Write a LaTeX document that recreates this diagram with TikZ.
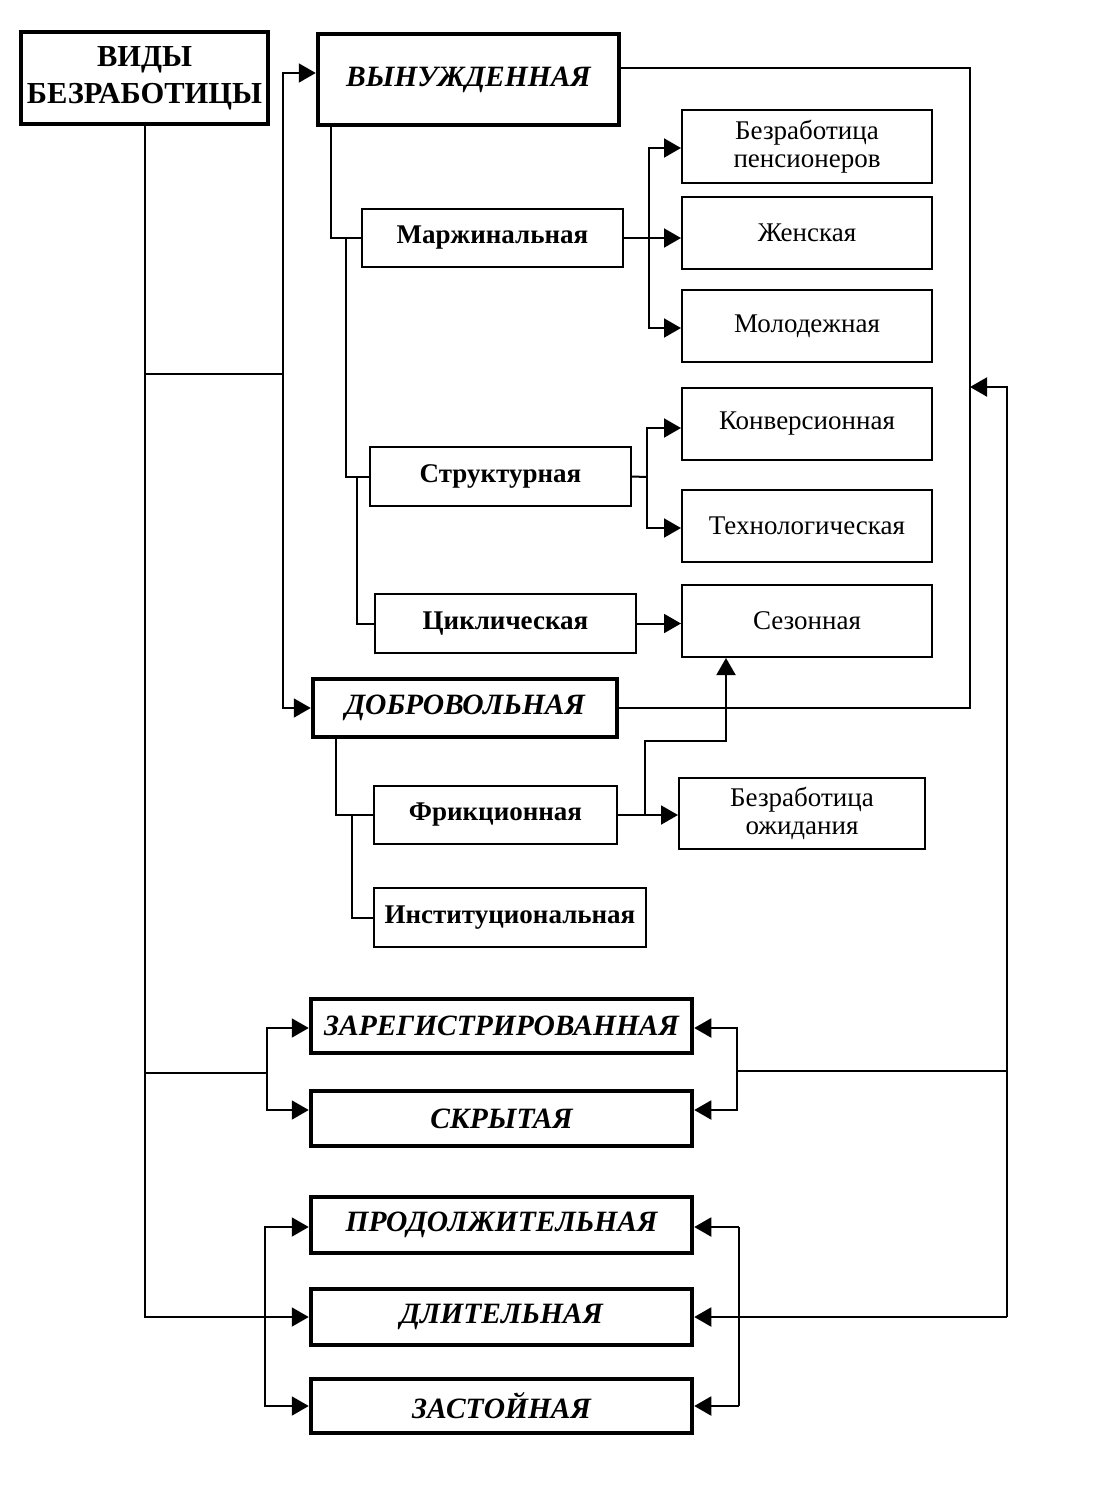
\documentclass[tikz,border=0pt]{standalone}
\usepackage{fontspec}
\setmainfont{Liberation Serif}
\usetikzlibrary{arrows.meta}
\tikzset{
  conn/.style={line width=2pt},
  arr/.style={conn,-{Triangle[length=17pt,width=19pt]}},
  bigbox/.style={draw,line width=4.5pt,inner sep=0pt,align=center,
    font=\fontsize{29.5}{33}\selectfont\bfseries\itshape},
  titlebox/.style={draw,line width=4.5pt,inner sep=0pt,align=center,
    font=\fontsize{30.5}{37}\selectfont\bfseries},
  subbox/.style={draw,line width=2pt,inner sep=0pt,align=center,
    font=\fontsize{27}{28}\selectfont\bfseries},
  leafbox/.style={draw,line width=2pt,inner sep=0pt,align=center,
    font=\fontsize{27}{28}\selectfont},
}
\begin{document}
\begin{tikzpicture}[x=1pt,y=-1pt]
\useasboundingbox (0,0) rectangle (1118,1500);
% nodes
\node[titlebox,minimum width=247pt,minimum height=92pt] (vid) at (144.5,78) {ВИДЫ\\БЕЗРАБОТИЦЫ};
\node[bigbox,minimum width=301pt,minimum height=91pt] (vyn) at (468.5,79.5) {ВЫНУЖДЕННАЯ};
\node[subbox,minimum width=261pt,minimum height=58pt] (marg) at (492.5,238) {Маржинальная};
\node[leafbox,minimum width=250pt,minimum height=73pt] (pens) at (807,146.5) {Безработица\\пенсионеров};
\node[leafbox,minimum width=250pt,minimum height=72pt] (zhen) at (807,233) {Женская};
\node[leafbox,minimum width=250pt,minimum height=72pt] (molod) at (807,326) {Молодежная};
\node[leafbox,minimum width=250pt,minimum height=72pt] (konv) at (807,424) {Конверсионная};
\node[leafbox,minimum width=250pt,minimum height=72pt] (tekh) at (807,526) {Технологическая};
\node[leafbox,minimum width=250pt,minimum height=72pt] (sez) at (807,621) {Сезонная};
\node[subbox,minimum width=261pt,minimum height=59pt] (strukt) at (500.5,476.5) {Структурная};
\node[subbox,minimum width=261pt,minimum height=59pt] (cikl) at (505.5,623.5) {Циклическая};
\node[bigbox,minimum width=304pt,minimum height=58pt] (dobr) at (465,708) {ДОБРОВОЛЬНАЯ};
\node[subbox,minimum width=243pt,minimum height=58pt] (frik) at (495.5,815) {Фрикционная};
\node[leafbox,minimum width=246pt,minimum height=71pt] (ozhid) at (802,813.5) {Безработица\\ожидания};
\node[subbox,minimum width=272pt,minimum height=59pt] (inst) at (510,917.5) {Институциональная};
\node[bigbox,minimum width=381pt,minimum height=54pt] (zareg) at (501.5,1026) {ЗАРЕГИСТРИРОВАННАЯ};
\node[bigbox,minimum width=381pt,minimum height=55pt] (skryt) at (501.5,1118.5) {СКРЫТАЯ};
\node[bigbox,minimum width=381pt,minimum height=56pt] (prod) at (501.5,1225) {ПРОДОЛЖИТЕЛЬНАЯ};
\node[bigbox,minimum width=381pt,minimum height=56pt] (dlit) at (501.5,1317) {ДЛИТЕЛЬНАЯ};
\node[bigbox,minimum width=381pt,minimum height=54pt] (zast) at (501.5,1406) {ЗАСТОЙНАЯ};
% junction coordinates
\coordinate (j1) at (283,374);
\coordinate (g2) at (267,1073);
\coordinate (b1) at (265,1318);
\coordinate (m1) at (649,238);
\coordinate (s1) at (647,477);
\coordinate (r1) at (970,68);
\coordinate (r2) at (970,708);
\coordinate (r4) at (970,387);
\coordinate (r5) at (1007,1317);
\coordinate (r6) at (1007,1071);
\coordinate (g1) at (737,1071);
\coordinate (b2) at (739,1317);
\coordinate (f1) at (645,815);
\coordinate (f2) at (645,741);
\coordinate (f3) at (726,741);
% main trunk
\draw[arr] (vid.south) |- (dlit.west);
\draw[conn] (vid.south |- j1) -- (j1);
\draw[arr] (j1) |- (vyn.west |- 0,73);
\draw[arr] (j1) |- (dobr.west);
\draw[conn] (vid.south |- g2) -- (g2);
\draw[arr] (g2) |- (zareg.west |- 0,1028);
\draw[arr] (g2) |- (skryt.west |- 0,1110);
\draw[arr] (b1) |- (prod.west |- 0,1227);
\draw[arr] (b1) |- (zast.west |- 0,1406);
% forced branch
\draw[conn] (331,0 |- vyn.south) |- (marg.west);
\draw[conn] (346,0 |- marg.west) |- (strukt.west);
\draw[conn] (357,0 |- strukt.west) |- (cikl.west);
\draw[conn] (marg.east) -- (m1);
\draw[arr] (m1) |- (pens.west |- 0,148);
\draw[arr] (m1) -- (zhen.west |- m1);
\draw[arr] (m1) |- (molod.west |- 0,328);
\draw[conn] (strukt.east) -- (s1);
\draw[arr] (s1) |- (konv.west |- 0,428);
\draw[arr] (s1) |- (tekh.west |- 0,528);
\draw[arr] (cikl.east) -- (sez.west |- cikl.east);
% loop from vyn to dobr
\draw[conn] (vyn.east |- r1) -- (r1) -- (r2) -- (dobr.east |- r2);
% right long line
\draw[arr] (r5) |- (r4);
\draw[arr] (r5) -- (dlit.east |- r5);
\draw[conn] (r6) -- (g1);
\draw[arr] (g1) |- (zareg.east |- 0,1028);
\draw[arr] (g1) |- (skryt.east |- 0,1110);
\draw[arr] (b2 |- 0,1227) -- (prod.east |- 0,1227);
\draw[conn] (b2 |- 0,1227) -- (b2 |- 0,1406);
\draw[arr] (b2 |- 0,1406) -- (zast.east |- 0,1406);
% voluntary branch
\draw[conn] (336,0 |- dobr.south) |- (frik.west);
\draw[conn] (352,0 |- frik.west) |- (inst.west);
\draw[arr] (frik.east) -- (ozhid.west |- frik.east);
\draw[arr] (f1) -- (f2) -- (f3) -- (sez.south -| f3);
\end{tikzpicture}
\end{document}
